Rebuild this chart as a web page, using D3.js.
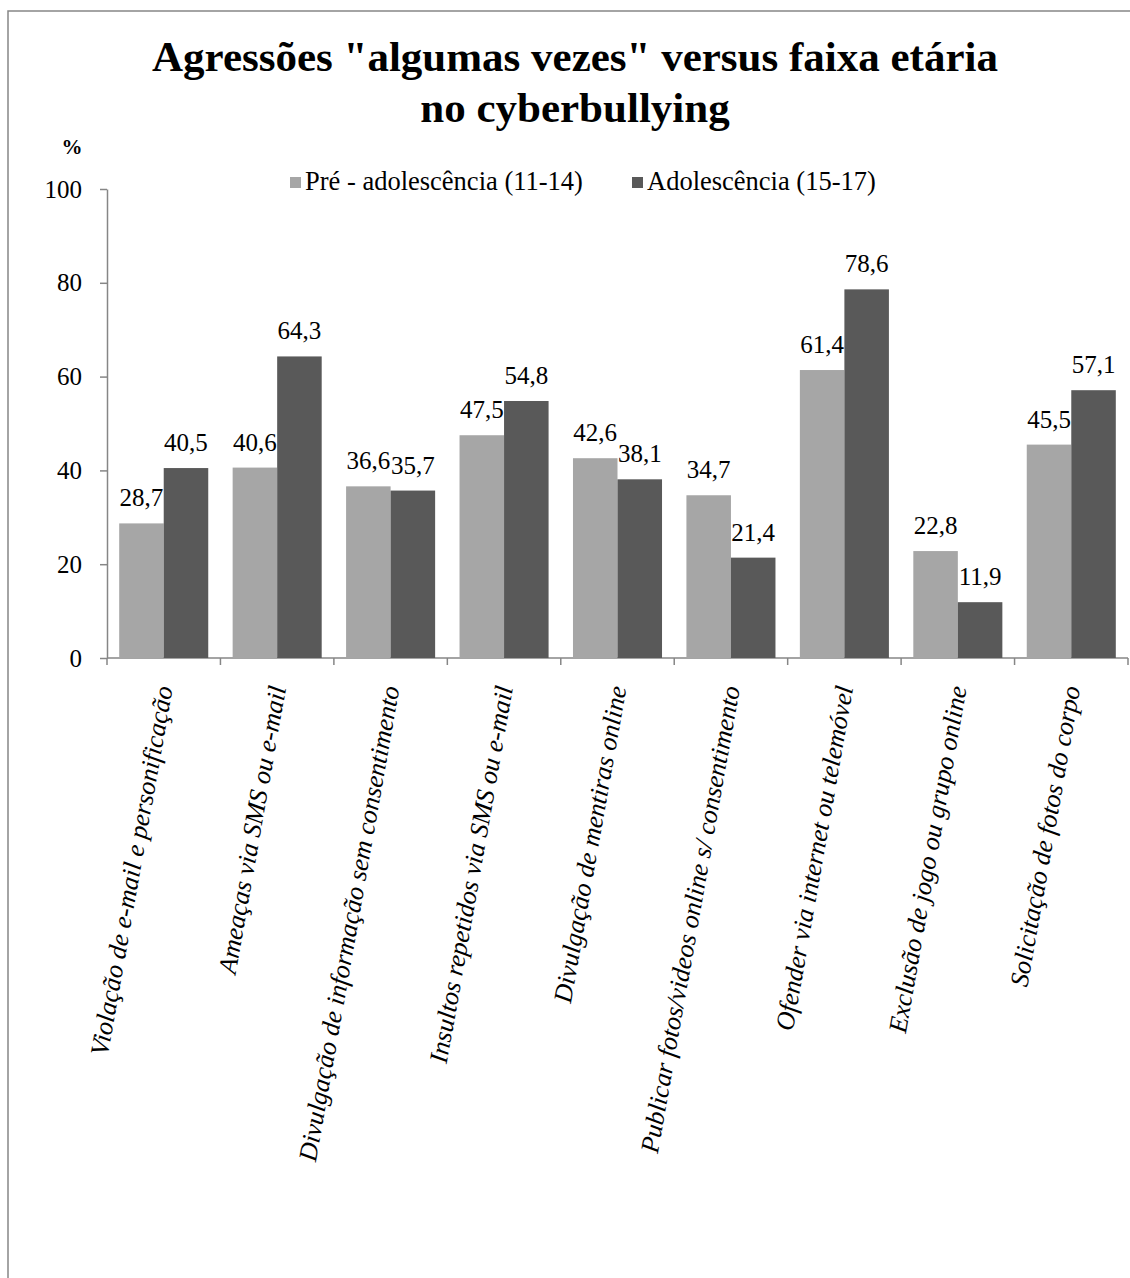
<!DOCTYPE html>
<html><head><meta charset="utf-8">
<script src="https://cdn.jsdelivr.net/npm/d3@7"></script>
<style>body{margin:0;background:#fff}svg{display:block}svg text{font-family:"Liberation Serif","Times New Roman",serif}</style>
</head><body>
<svg id="c" width="1130" height="1278"></svg>
<script>
const categories = [
  "Violação de e-mail e personificação",
  "Ameaças via SMS ou e-mail",
  "Divulgação de informação sem consentimento",
  "Insultos repetidos via SMS ou e-mail",
  "Divulgação de mentiras online",
  "Publicar fotos/videos online s/ consentimento",
  "Ofender via internet ou telemóvel",
  "Exclusão de jogo ou grupo online",
  "Solicitação de fotos do corpo"
];
const seriesNames = ["Pré - adolescência (11-14)", "Adolescência (15-17)"];
const preAdolescencia = [28.7, 40.6, 36.6, 47.5, 42.6, 34.7, 61.4, 22.8, 45.5];
const adolescencia = [40.5, 64.3, 35.7, 54.8, 38.1, 21.4, 78.6, 11.9, 57.1];
const yTicks = [0, 20, 40, 60, 80, 100];
const titleLines = ['Agressões "algumas vezes" versus faixa etária', 'no cyberbullying'];
const yUnit = "%";

const colors = ["#a6a6a6", "#595959"];
const svg = d3.select("#c");

svg.append("rect").attr("x", 8).attr("y", 11).attr("width", 1140).attr("height", 1290)
  .attr("fill", "none").attr("stroke", "#868686").attr("stroke-width", 1.5);

const pLeft = 107, pRight = 1128, pTop = 189, pBottom = 658;
const x0 = d3.scaleBand().domain(categories.map((d, i) => i)).range([pLeft, pRight]).padding(0);
const x1 = d3.scaleBand().domain([0, 1]).range([0, x0.bandwidth()]).paddingInner(0).paddingOuter(0.274);
const y = d3.scaleLinear().domain([0, 100]).range([pBottom, pTop]);

// title
svg.append("text").attr("text-anchor", "middle")
  .style("font-weight", "bold").style("font-size", "43px")
  .selectAll("tspan").data(titleLines).join("tspan")
  .attr("x", 575).attr("y", (d, i) => 71 + i * 51).text(d => d);

svg.append("text").attr("x", 72).attr("y", 147).attr("text-anchor", "middle")
  .attr("dominant-baseline", "central")
  .style("font-weight", "bold").style("font-size", "21px").text(yUnit);

// y axis
const yAxis = svg.append("g").attr("transform", `translate(${pLeft},0)`)
  .call(d3.axisLeft(y).tickValues(yTicks).tickSize(7).tickSizeOuter(0).tickPadding(18));
yAxis.select(".domain").attr("stroke", "#868686").attr("stroke-width", 1.5);
yAxis.selectAll(".tick line").attr("stroke", "#868686").attr("stroke-width", 1.5);
yAxis.selectAll(".tick text").style("font-size", "25px").attr("fill", "#000");

// x axis
const bounds = d3.range(categories.length + 1).map(i => pLeft + i * x0.step());
const xg = svg.append("g");
xg.append("line").attr("x1", pLeft).attr("x2", pRight).attr("y1", pBottom).attr("y2", pBottom)
  .attr("stroke", "#868686").attr("stroke-width", 1.5);
xg.selectAll("line.t").data(bounds).join("line").attr("class", "t")
  .attr("x1", d => d).attr("x2", d => d).attr("y1", pBottom).attr("y2", pBottom + 7)
  .attr("stroke", "#868686").attr("stroke-width", 1.5);

// bars
const series = [preAdolescencia, adolescencia];
series.forEach((vals, s) => {
  const g = svg.append("g");
  g.selectAll("rect").data(vals).join("rect")
    .attr("x", (d, i) => x0(i) + x1(s)).attr("width", x1.bandwidth())
    .attr("y", d => y(d)).attr("height", d => y(0) - y(d))
    .attr("fill", colors[s]);
  g.selectAll("text").data(vals).join("text")
    .attr("x", (d, i) => x0(i) + x1(s) + x1.bandwidth() / 2)
    .attr("y", d => y(d) - 17).attr("text-anchor", "middle")
    .style("font-size", "25px").attr("fill", "#000")
    .text(d => d.toFixed(1).replace(".", ","));
});

// category labels
svg.append("g").selectAll("text").data(categories).join("text")
  .attr("transform", (d, i) => `translate(${x0(i) + x0.bandwidth() / 2},686) rotate(-80)`)
  .attr("text-anchor", "end").attr("dy", "0.35em")
  .style("font-style", "italic").style("font-size", "26px").attr("fill", "#000")
  .text(d => d);

// legend
const leg = svg.append("g");
const legX = [290, 632];
seriesNames.forEach((n, i) => {
  leg.append("rect").attr("x", legX[i]).attr("y", 177).attr("width", 11).attr("height", 11).attr("fill", colors[i]);
  leg.append("text").attr("x", legX[i] + 15).attr("y", 190)
    .style("font-size", "26.5px").attr("fill", "#000").text(n);
});
</script>
</body></html>
